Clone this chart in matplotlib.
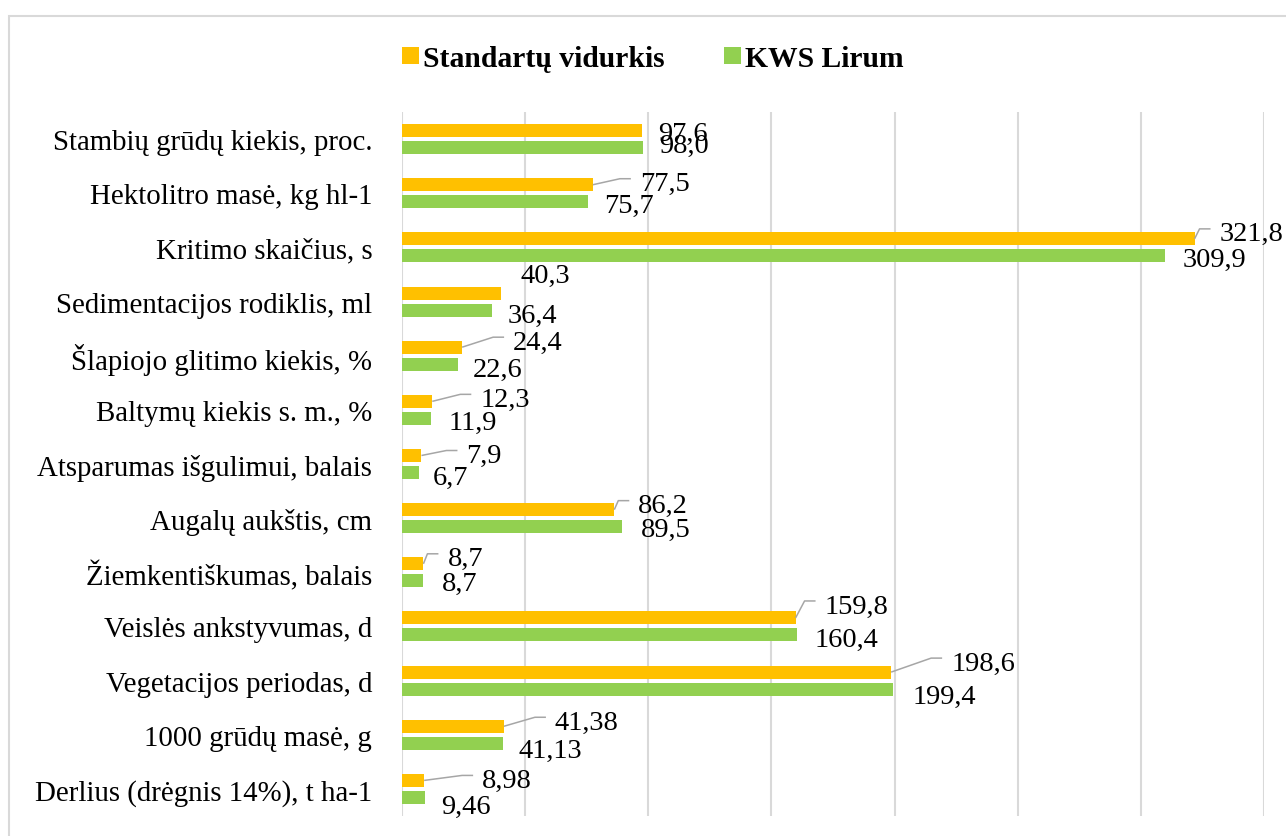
import numpy as np
import matplotlib
matplotlib.use("Agg")
import matplotlib.pyplot as plt
from matplotlib.patches import Rectangle

plt.rcParams['font.family'] = ['Liberation Serif', 'DejaVu Serif']

categories = [
    "Stambių grūdų kiekis, proc.",
    "Hektolitro masė, kg hl-1",
    "Kritimo skaičius, s",
    "Sedimentacijos rodiklis, ml",
    "Šlapiojo glitimo kiekis, %",
    "Baltymų kiekis s. m., %",
    "Atsparumas išgulimui, balais",
    "Augalų aukštis, cm",
    "Žiemkentiškumas, balais",
    "Veislės ankstyvumas, d",
    "Vegetacijos periodas, d",
    "1000 grūdų masė, g",
    "Derlius (drėgnis 14%), t ha-1",
]
standartu = [97.6, 77.5, 321.8, 40.3, 24.4, 12.3, 7.9, 86.2, 8.7, 159.8, 198.6, 41.38, 8.98]
kws_lirum = [98.0, 75.7, 309.9, 36.4, 22.6, 11.9, 6.7, 89.5, 8.7, 160.4, 199.4, 41.13, 9.46]
std_labels = ["97,6", "77,5", "321,8", "40,3", "24,4", "12,3", "7,9", "86,2", "8,7",
              "159,8", "198,6", "41,38", "8,98"]
kws_labels = ["98,0", "75,7", "309,9", "36,4", "22,6", "11,9", "6,7", "89,5", "8,7",
              "160,4", "199,4", "41,13", "9,46"]

# label placement (pixels from bar end / bar centre, y downwards), leader yes/no
std_pos = [(16, 0, False), (47, -4, True), (25, -8, True), (19, -21, False),
           (51, -8, True), (48, -5, True), (45, -3, True), (24, -7, True),
           (24, -8, True), (29, -15, True), (60, -12, True), (51, -7, True),
           (58, -3, True)]
kws_pos = [(16, -5), (16, 1), (17, 1), (16, 2), (15, 2), (17, 1), (14, 2),
           (18, 0), (18, 0), (18, 1), (19, 4), (15, 4), (16, 6)]

ORANGE = "#FFC000"
GREEN = "#92D050"
GRID = "#D9D9D9"

fig = plt.figure(figsize=(12.86, 8.37), dpi=100)
ax = fig.add_axes([402/1286, 1 - 817/837, 862/1286, 704/837])

y = np.arange(len(categories))
h = 0.24
off = 0.157
ax.barh(y - off, standartu, height=h, color=ORANGE, label="Standartų vidurkis", zorder=3)
ax.barh(y + off, kws_lirum, height=h, color=GREEN, label="KWS Lirum", zorder=3)

ax.set_xlim(0, 350)
ax.set_ylim(len(categories) - 0.5, -0.5)
ax.set_xticks(np.arange(0, 351, 50))
ax.tick_params(axis='x', bottom=False, labelbottom=False)
ax.tick_params(axis='y', left=False, pad=18, labelsize=20.8)
ax.set_yticks(y)
ax.set_yticklabels(categories)
ax.grid(axis='x', color=GRID, lw=1.5, zorder=0)
for s in ax.spines.values():
    s.set_visible(False)


def shift(x0, y0, dxp, dyp):
    X, Y = ax.transData.transform((x0, y0))
    return ax.transData.inverted().transform((X + dxp, Y - dyp))


LIFT = 3  # text centre correction
for i in range(len(categories)):
    v, yy = standartu[i], y[i] - off
    dx, dy, leader = std_pos[i]
    tx, ty = shift(v, yy, dx, dy + LIFT)
    ax.text(tx, ty, std_labels[i], ha='left', va='center', fontsize=20.5, zorder=5)
    if leader:
        ex, ey = shift(v, yy, dx - 9, dy - 2)
        kx, ky = shift(v, yy, dx - 20, dy - 2)
        ax.plot([v, kx, ex], [yy, ky, ey], color="#A6A6A6", lw=1.1, zorder=4,
                solid_capstyle='butt')

    v, yy = kws_lirum[i], y[i] + off
    dx, dy = kws_pos[i]
    tx, ty = shift(v, yy, dx, dy + LIFT)
    ax.text(tx, ty, kws_labels[i], ha='left', va='center', fontsize=20.5, zorder=5)

leg = fig.legend(loc='center', bbox_to_anchor=(0.5075, 0.929), ncol=2, frameon=False,
                 prop={'weight': 'bold', 'size': 21.3}, handlelength=0.6,
                 handleheight=0.55, handletextpad=0.12, columnspacing=2.0)

fig.patches.append(Rectangle((8.5/1286, -0.1), 1.2, 0.1 + 1 - 16.5/837,
                             transform=fig.transFigure, fill=False,
                             edgecolor=GRID, lw=1.5))

fig.savefig("out.png", dpi=100)
